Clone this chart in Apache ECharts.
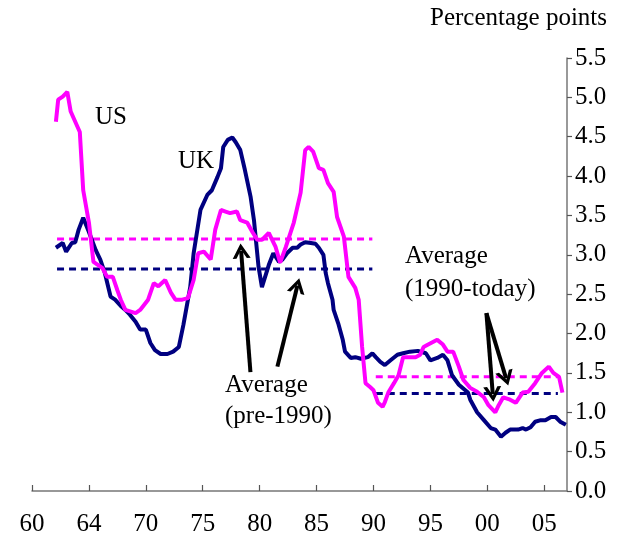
<!DOCTYPE html>
<html>
<head>
<meta charset="utf-8">
<script src="https://cdn.jsdelivr.net/npm/echarts@6.0.0/dist/echarts.min.js"></script>
<style>
  html, body { margin: 0; padding: 0; background: #fff; }
  #chart { width: 620px; height: 543px; }
</style>
</head>
<body>
<div id="chart"></div>
<script>
// x is the year minus 1900, the axis ticks every 5 years
const xTickLabels = ['60', '64', '70', '75', '80', '85', '90', '95', '00', '05'];

// US series [year, percentage points]
const usPoints = [
  [62.1, 4.69], [62.3, 4.97], [62.7, 5.01], [63.1, 5.07], [63.4, 4.82], [64.2, 4.56],
  [64.5, 3.82], [65.0, 3.41], [65.4, 2.91], [66.2, 2.83], [66.6, 2.72], [67.1, 2.72],
  [67.5, 2.55], [67.8, 2.43], [68.2, 2.30], [69.1, 2.26], [69.5, 2.30], [70.2, 2.43],
  [70.7, 2.64], [71.1, 2.60], [71.7, 2.68], [72.2, 2.52], [72.6, 2.43], [73.2, 2.43],
  [73.7, 2.45], [74.2, 2.68], [74.6, 3.02], [75.1, 3.04], [75.7, 2.94], [76.1, 3.32],
  [76.6, 3.57], [77.0, 3.55], [77.4, 3.53], [78.0, 3.55], [78.3, 3.44], [78.9, 3.41],
  [79.4, 3.28], [79.8, 3.19], [80.2, 3.19], [80.8, 3.28], [81.4, 3.10], [81.8, 2.90],
  [82.3, 3.10], [83.0, 3.41], [83.6, 3.79], [84.0, 4.33], [84.3, 4.37], [84.7, 4.31],
  [85.2, 4.10], [85.6, 4.08], [86.0, 3.91], [86.5, 3.80], [86.8, 3.48], [87.4, 3.23],
  [87.8, 2.72], [88.4, 2.58], [88.7, 2.43], [89.0, 1.83], [89.3, 1.37], [89.7, 1.32],
  [90.0, 1.28], [90.4, 1.12], [90.8, 1.07], [91.0, 1.13], [91.3, 1.25], [91.8, 1.37],
  [92.2, 1.47], [92.6, 1.70], [93.2, 1.70], [93.7, 1.70], [94.1, 1.73], [94.4, 1.83],
  [94.8, 1.86], [95.6, 1.92], [96.1, 1.86], [96.5, 1.77], [97.0, 1.77], [97.5, 1.58],
  [97.9, 1.41], [98.5, 1.31], [99.1, 1.26], [99.7, 1.19], [100.1, 1.09], [100.7, 1.00],
  [101.0, 1.09], [101.4, 1.19], [102.0, 1.16], [102.5, 1.12], [103.1, 1.25], [103.6, 1.26],
  [104.2, 1.37], [104.8, 1.50], [105.4, 1.58], [105.8, 1.50], [106.3, 1.45], [106.6, 1.25]
];

// UK series [year, percentage points]
const ukPoints = [
  [62.1, 3.09], [62.7, 3.15], [63.0, 3.04], [63.5, 3.15], [63.8, 3.16], [64.1, 3.32],
  [64.5, 3.47], [65.0, 3.29], [65.6, 3.06], [66.0, 2.94], [66.4, 2.77], [66.9, 2.47],
  [67.3, 2.43], [67.8, 2.35], [68.2, 2.30], [68.6, 2.24], [69.1, 2.15], [69.5, 2.05],
  [70.0, 2.05], [70.4, 1.88], [70.8, 1.79], [71.3, 1.74], [71.9, 1.74], [72.4, 1.77],
  [72.9, 1.83], [73.3, 2.11], [73.7, 2.43], [73.9, 2.59], [74.2, 3.02], [74.8, 3.57],
  [75.4, 3.76], [75.8, 3.82], [76.3, 3.99], [76.6, 4.10], [76.8, 4.37], [77.2, 4.46],
  [77.6, 4.49], [77.9, 4.43], [78.3, 4.33], [78.7, 4.08], [79.2, 3.74], [79.5, 3.44],
  [79.9, 2.85], [80.2, 2.59], [80.8, 2.87], [81.2, 3.02], [81.7, 2.91], [82.0, 2.94],
  [82.4, 3.02], [82.9, 3.09], [83.3, 3.09], [83.6, 3.13], [84.0, 3.16], [84.5, 3.15],
  [84.9, 3.14], [85.2, 3.09], [85.6, 3.00], [85.8, 2.77], [86.0, 2.64], [86.4, 2.43],
  [86.5, 2.30], [86.9, 2.13], [87.3, 1.92], [87.5, 1.77], [88.0, 1.69], [88.4, 1.70],
  [88.9, 1.68], [89.5, 1.70], [89.9, 1.75], [90.2, 1.70], [90.6, 1.64], [91.0, 1.60],
  [91.5, 1.66], [92.1, 1.73], [92.6, 1.75], [93.2, 1.77], [93.9, 1.78], [94.6, 1.75],
  [95.0, 1.66], [95.6, 1.69], [96.1, 1.73], [96.5, 1.66], [96.9, 1.47], [97.5, 1.35],
  [98.3, 1.25], [98.5, 1.16], [99.1, 1.00], [99.7, 0.90], [100.3, 0.80], [100.7, 0.78],
  [101.2, 0.69], [101.6, 0.74], [102.0, 0.78], [102.7, 0.78], [103.1, 0.80], [103.4, 0.78],
  [103.8, 0.81], [104.2, 0.88], [104.7, 0.90], [105.1, 0.90], [105.6, 0.94], [106.0, 0.94],
  [106.4, 0.88], [106.9, 0.84]
];

// period averages: [start year, end year, value]
const usAverages = [[62.2, 89.9, 3.20], [90.2, 106.2, 1.45]];
const ukAverages = [[62.2, 89.9, 2.82], [90.2, 106.2, 1.24]];

// annotation arrows: [from year, from value, to year, to value]
const arrows = [
  [79.19, 1.51, 78.37, 3.05],
  [81.56, 1.58, 83.32, 2.61],
  [99.92, 2.26, 100.48, 1.23],
  [99.92, 2.26, 101.65, 1.43]
];

const US_COLOR = '#ff00ff';
const UK_COLOR = '#000080';
const FONT = '"Liberation Serif", "Times New Roman", serif';

function avgSeries(avgs, color) {
  return {
    type: 'line',
    silent: true,
    showSymbol: false,
    data: avgs.flatMap(a => [[a[0], a[2]], [a[1], a[2]], null]),
    connectNulls: false,
    lineStyle: { color: color, width: 3, type: [7, 5] },
    z: 1
  };
}

const chart = echarts.init(document.getElementById('chart'));

chart.setOption({
  animation: false,
  backgroundColor: '#fff',
  textStyle: { fontFamily: FONT },
  grid: { left: 32, right: 53, top: 58, bottom: 52 },
  xAxis: {
    type: 'value',
    min: 60,
    max: 107,
    interval: 5,
    axisLine: { onZero: false, lineStyle: { color: '#777', width: 1.5 } },
    axisTick: { inside: true, length: 6, lineStyle: { color: '#555', width: 1.2 } },
    splitLine: { show: false },
    axisLabel: {
      margin: 21,
      color: '#000',
      fontSize: 25,
      fontFamily: FONT,
      showMaxLabel: false,
      formatter: v => {
        const i = Math.round((v - 60) / 5);
        return (v - 60) % 5 === 0 && xTickLabels[i] ? xTickLabels[i] : '';
      }
    }
  },
  yAxis: {
    type: 'value',
    position: 'right',
    min: 0,
    max: 5.5,
    interval: 0.5,
    axisLine: { show: true, lineStyle: { color: '#777', width: 1.5 } },
    axisTick: { show: true, length: 5, lineStyle: { color: '#555', width: 1.2 } },
    splitLine: { show: false },
    axisLabel: {
      margin: 8,
      color: '#000',
      fontSize: 25,
      fontFamily: FONT,
      formatter: v => v.toFixed(1)
    }
  },
  series: [
    avgSeries(usAverages, US_COLOR),
    avgSeries(ukAverages, UK_COLOR),
    {
      name: 'UK',
      type: 'line',
      showSymbol: false,
      data: ukPoints,
      lineStyle: { color: UK_COLOR, width: 4 },
      z: 2
    },
    {
      name: 'US',
      type: 'line',
      showSymbol: false,
      data: usPoints,
      lineStyle: { color: US_COLOR, width: 4 },
      z: 3,
      markLine: {
        silent: true,
        symbol: ['none', 'path://M0,12 L8,0 L16,12 L12.6,12 L8,5 L3.4,12 Z'],
        symbolSize: [18, 15],
        label: { show: false },
        lineStyle: { color: '#000', width: 4, type: 'solid' },
        data: arrows.map(a => [{ coord: [a[0], a[1]] }, { coord: [a[2], a[3]] }])
      }
    }
  ],
  graphic: [
    { type: 'text', left: 430, top: 6, style: { text: 'Percentage points', font: '25px ' + FONT, fill: '#000' } },
    { type: 'text', left: 95, top: 105, style: { text: 'US', font: '25px ' + FONT, fill: '#000' } },
    { type: 'text', left: 178, top: 149, style: { text: 'UK', font: '25px ' + FONT, fill: '#000' } },
    { type: 'text', left: 225, top: 370, style: { text: 'Average\n(pre-1990)', font: '25px ' + FONT, lineHeight: 31, fill: '#000' } },
    { type: 'text', left: 405, top: 240, style: { text: 'Average\n(1990-today)', font: '25px ' + FONT, lineHeight: 33, fill: '#000' } }
  ]
});
</script>
</body>
</html>
